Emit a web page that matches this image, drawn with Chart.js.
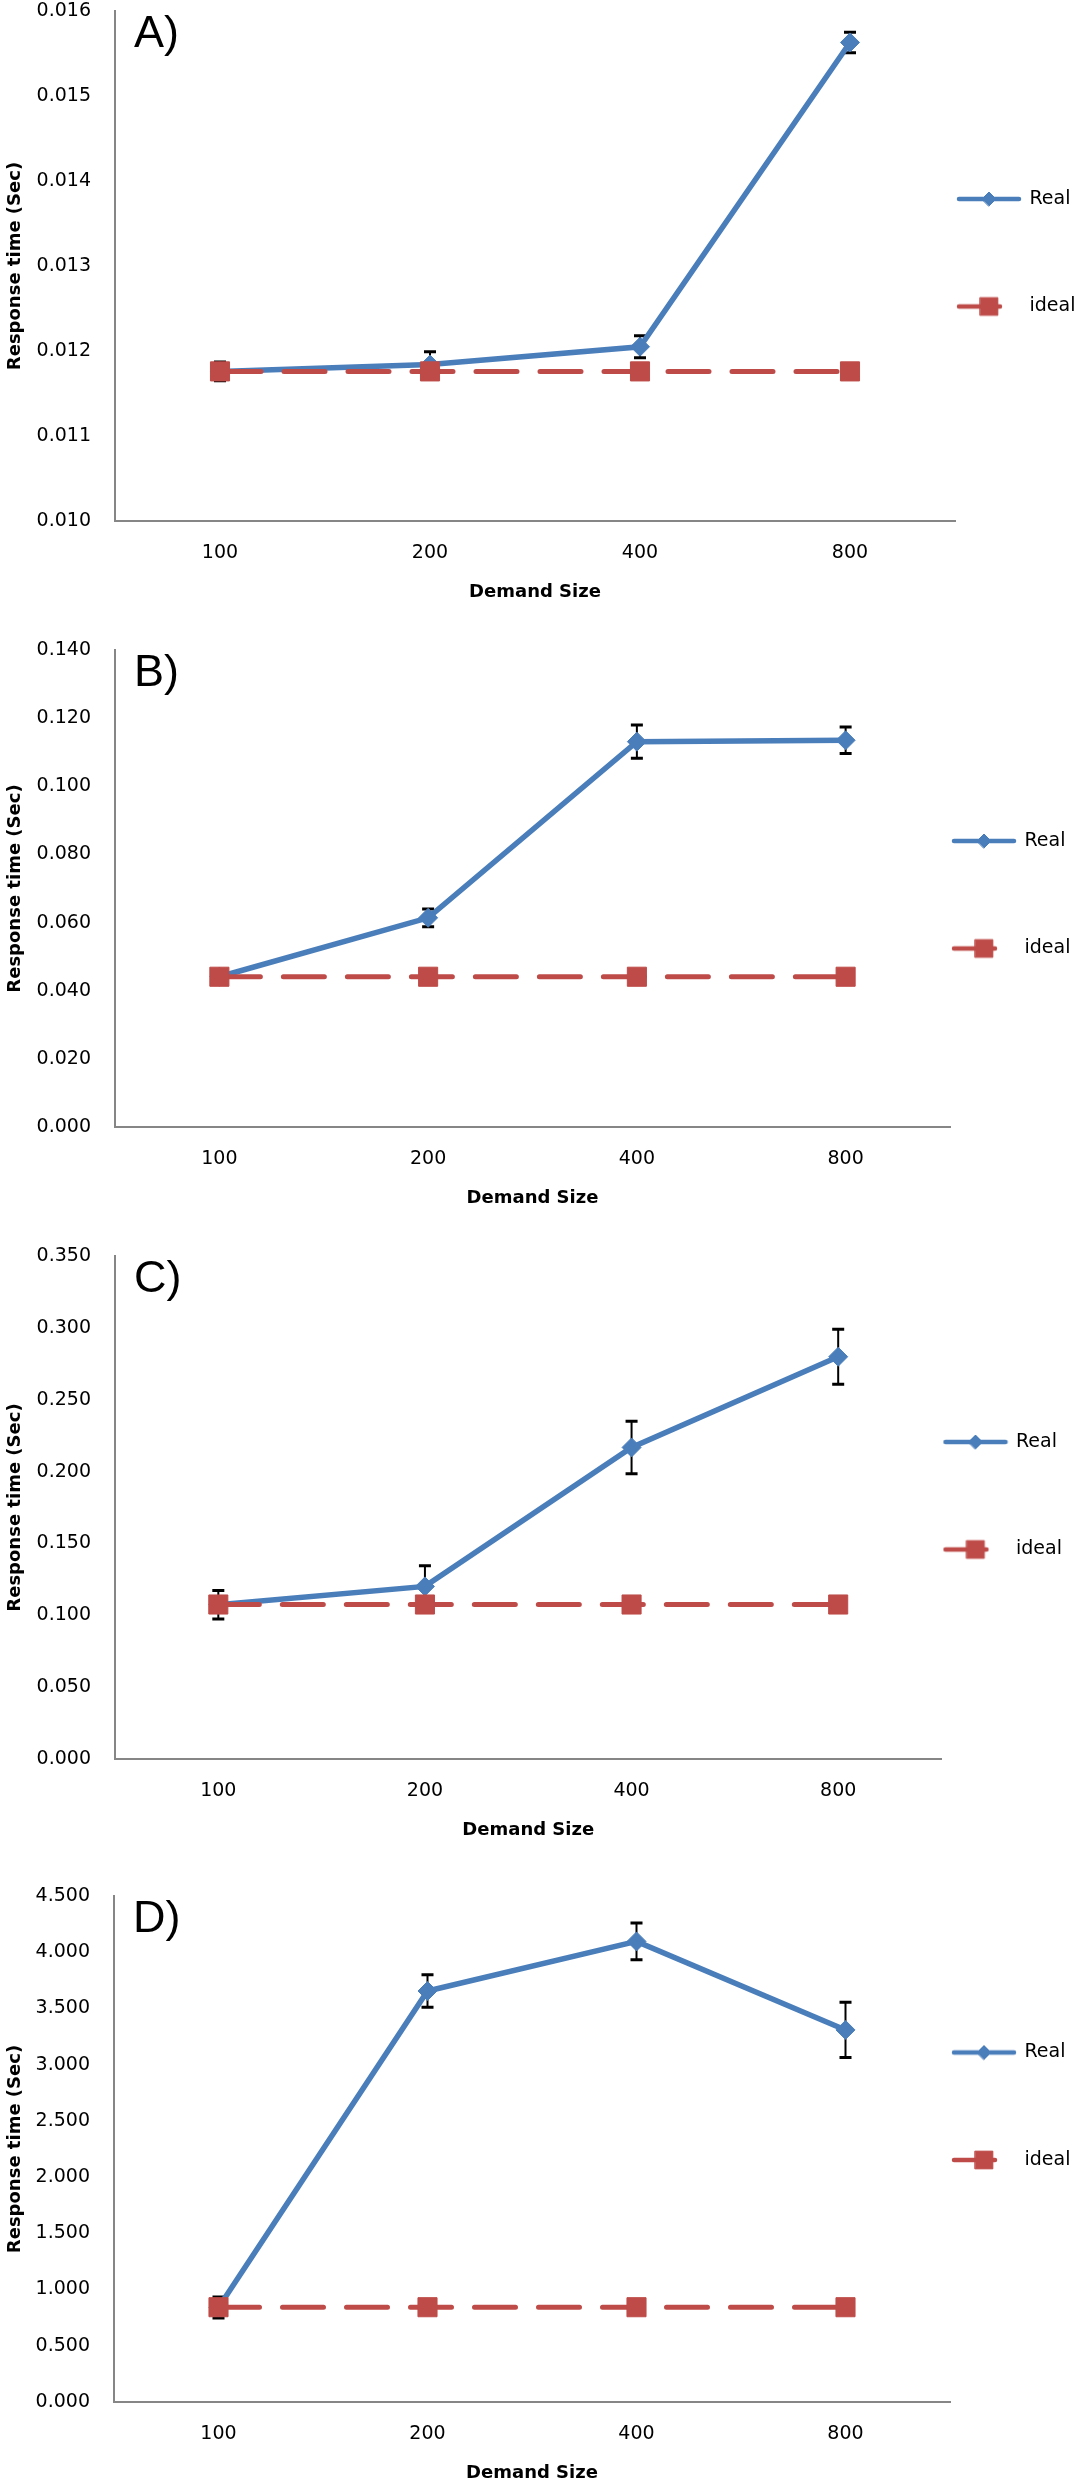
<!DOCTYPE html>
<html>
<head>
<meta charset="utf-8">
<script src="https://cdn.jsdelivr.net/npm/chart.js@4.4.1/dist/chart.umd.min.js"></script>
<style>
  html, body { margin: 0; padding: 0; background: #fff; overflow: hidden; }
  body { width: 1079px; height: 2481px; position: relative; }
  .panel { position: absolute; left: 0; width: 1079px; }
</style>
</head>
<body>
<div class="panel" id="panelA"><canvas id="chartA"></canvas></div>
<div class="panel" id="panelB"><canvas id="chartB"></canvas></div>
<div class="panel" id="panelC"><canvas id="chartC"></canvas></div>
<div class="panel" id="panelD"><canvas id="chartD"></canvas></div>
<script>
const demandSizes = ['100', '200', '400', '800'];
const seriesNames = ['Real', 'ideal'];

// A)
const realA = [0.01176, 0.01184, 0.01205, 0.01563];
const realErrA = [0.00011, 0.00015, 0.00013, 0.00012];
const idealA = [0.01176, 0.01176, 0.01176, 0.01176];
const yTicksA = [0.010, 0.016, 0.001];   // min, max, step

// B)
const realB = [0.0441, 0.0614, 0.1131, 0.1135];
const realErrB = [0.0010, 0.0026, 0.0049, 0.0039];
const idealB = [0.0441, 0.0441, 0.0441, 0.0441];
const yTicksB = [0, 0.140, 0.020];

// C)
const realC = [0.1074, 0.1201, 0.2168, 0.2799];
const realErrC = [0.0099, 0.0144, 0.0183, 0.0192];
const idealC = [0.1075, 0.1075, 0.1075, 0.1075];
const yTicksC = [0, 0.350, 0.050];

// D)
const realD = [0.840, 3.655, 4.096, 3.309];
const realErrD = [0.094, 0.145, 0.163, 0.245];
const idealD = [0.843, 0.843, 0.843, 0.843];
const yTicksD = [0, 4.5, 0.5];

const blue = '#4a7ebb';
const red = '#be4b48';
const axisGrey = '#868686';
const labelFont = '"DejaVu Sans", Verdana, sans-serif';
const padTop = 38;

// legend symbol: short line with the marker on it
function legendSymbol(color, style, radius, dash) {
    let c = document.createElement('canvas');
    c.width = 66;
    c.height = 24;
    let g = c.getContext('2d');
    g.strokeStyle = color;
    g.fillStyle = color;
    g.lineWidth = 4.5;
    g.lineCap = 'round';
    if (dash) g.setLineDash(dash);
    g.beginPath();
    g.moveTo(3, 12);
    g.lineTo(63, 12);
    g.stroke();
    g.setLineDash([]);
    g.lineWidth = 1;
    Chart.helpers.drawPoint(g, { pointStyle: style, radius: radius, borderWidth: 1 }, 33, 12);
    return c;
}
const legendSymbols = [
    legendSymbol(blue, 'rectRot', 7),
    legendSymbol(red, 'rect', 12.5, [41, 23])
];

const errorBars = {
    id: 'errorBars',
    beforeDatasetDraw(chart, args, opts) {
        if (args.index !== 0) return;
        let ctx = chart.ctx;
        let yScale = chart.scales.y;
        let values = chart.data.datasets[0].data;
        ctx.save();
        ctx.strokeStyle = '#000';
        args.meta.data.forEach(function (pt, i) {
            let top = yScale.getPixelForValue(values[i] + opts.errors[i]);
            let bot = yScale.getPixelForValue(values[i] - opts.errors[i]);
            ctx.lineWidth = 2;
            ctx.beginPath();
            ctx.moveTo(pt.x, top);
            ctx.lineTo(pt.x, bot);
            ctx.stroke();
            ctx.lineWidth = 3;
            ctx.beginPath();
            ctx.moveTo(pt.x - 6, top);
            ctx.lineTo(pt.x + 6, top);
            ctx.moveTo(pt.x - 6, bot);
            ctx.lineTo(pt.x + 6, bot);
            ctx.stroke();
        });
        ctx.restore();
    }
};

const panelLetter = {
    id: 'panelLetter',
    afterDraw(chart, args, opts) {
        let ctx = chart.ctx;
        let area = chart.chartArea;
        ctx.save();
        ctx.font = '45px "Liberation Sans", Arial, sans-serif';
        ctx.fillStyle = '#000';
        ctx.textBaseline = 'alphabetic';
        ctx.fillText(opts.text, area.left + 19, area.top + 36);
        ctx.restore();
    }
};

// page placement of each panel (plot top / bottom in page pixels)
const panels = [
    { id: 'A', plotTop: 11,   plotBottom: 521,  left: 115, right: 955,   legendTop: 175.5, real: realA, err: realErrA, ideal: idealA, y: yTicksA },
    { id: 'B', plotTop: 650,  plotBottom: 1127, left: 115, right: 950,   legendTop: 178.5, real: realB, err: realErrB, ideal: idealB, y: yTicksB },
    { id: 'C', plotTop: 1256, plotBottom: 1759, left: 115, right: 941.5, legendTop: 173.5, real: realC, err: realErrC, ideal: idealC, y: yTicksC },
    { id: 'D', plotTop: 1896, plotBottom: 2402, left: 114, right: 950,   legendTop: 144,   real: realD, err: realErrD, ideal: idealD, y: yTicksD }
];

const legendWidth = 123;
const xAxisHeight = 82;
const padBottom = 4;

function makeChart(p) {
    let box = document.getElementById('panel' + p.id);
    let top = p.plotTop - padTop;
    box.style.top = top + 'px';
    box.style.height = (p.plotBottom + xAxisHeight + padBottom - top) + 'px';

    let data = {
        labels: demandSizes,
        datasets: [{
            label: seriesNames[0],
            data: p.real,
            order: 1,
            borderColor: blue,
            backgroundColor: blue,
            borderWidth: 5.5,
            pointStyle: 'rectRot',
            pointRadius: 9.5,
            pointBorderWidth: 1,
            pointBackgroundColor: blue,
            pointBorderColor: blue,
            tension: 0,
            fill: false
        }, {
            label: seriesNames[1],
            data: p.ideal,
            order: 0,
            borderColor: red,
            backgroundColor: red,
            borderWidth: 5,
            borderDash: [41, 23],
            borderCapStyle: 'round',
            pointStyle: 'rect',
            pointRadius: 13.5,
            pointBorderWidth: 1,
            pointBackgroundColor: red,
            pointBorderColor: red,
            tension: 0,
            fill: false
        }]
    };

    let options = {
        responsive: true,
        maintainAspectRatio: false,
        animation: false,
        layout: { padding: { top: padTop, bottom: padBottom, left: 0, right: 1079 - p.right - legendWidth } },
        scales: {
            x: {
                offset: true,
                grid: { display: false, drawTicks: false },
                border: { display: true, color: axisGrey, width: 2 },
                ticks: { padding: 21, color: '#000', maxRotation: 0, font: { family: labelFont, size: 19 } },
                title: { display: true, text: 'Demand Size', color: '#000', padding: 0,
                         font: { family: labelFont, weight: 'bold', size: 18 } },
                afterFit: function (s) { s.height = xAxisHeight; }
            },
            y: {
                min: p.y[0],
                max: p.y[1],
                grid: { display: false, drawTicks: false },
                border: { display: true, color: axisGrey, width: 2 },
                ticks: {
                    stepSize: p.y[2],
                    padding: 24,
                    color: '#000',
                    font: { family: labelFont, size: 19 },
                    callback: function (v) { return v.toFixed(3); }
                },
                title: { display: true, text: 'Response time (Sec)', color: '#000', padding: { top: 5, bottom: 0 },
                         font: { family: labelFont, weight: 'bold', size: 18 } },
                afterFit: function (s) { s.width = p.left; }
            }
        },
        plugins: {
            tooltip: { enabled: false },
            errorBars: { errors: p.err },
            panelLetter: { text: p.id + ')' },
            legend: {
                position: 'right',
                align: 'start',
                maxWidth: legendWidth,
                title: { display: true, text: ' ', font: { size: 10, lineHeight: 1 },
                         padding: { top: p.legendTop - 10, bottom: 0 } },
                labels: {
                    usePointStyle: true,
                    pointStyleWidth: 62,
                    padding: 3,
                    color: '#000',
                    font: { family: labelFont, size: 19, lineHeight: 5.5 },
                    generateLabels: function (chart) {
                        return chart.data.datasets.map(function (ds, i) {
                            return {
                                text: [ds.label],
                                pointStyle: legendSymbols[i],
                                fontColor: '#000',
                                fillStyle: ds.backgroundColor,
                                strokeStyle: ds.borderColor,
                                lineWidth: 0,
                                hidden: !chart.isDatasetVisible(i),
                                datasetIndex: i
                            };
                        });
                    }
                }
            }
        }
    };

    return new Chart(document.getElementById('chart' + p.id), {
        type: 'line',
        data: data,
        options: options,
        plugins: [errorBars, panelLetter]
    });
}

panels.forEach(makeChart);
</script>
</body>
</html>
